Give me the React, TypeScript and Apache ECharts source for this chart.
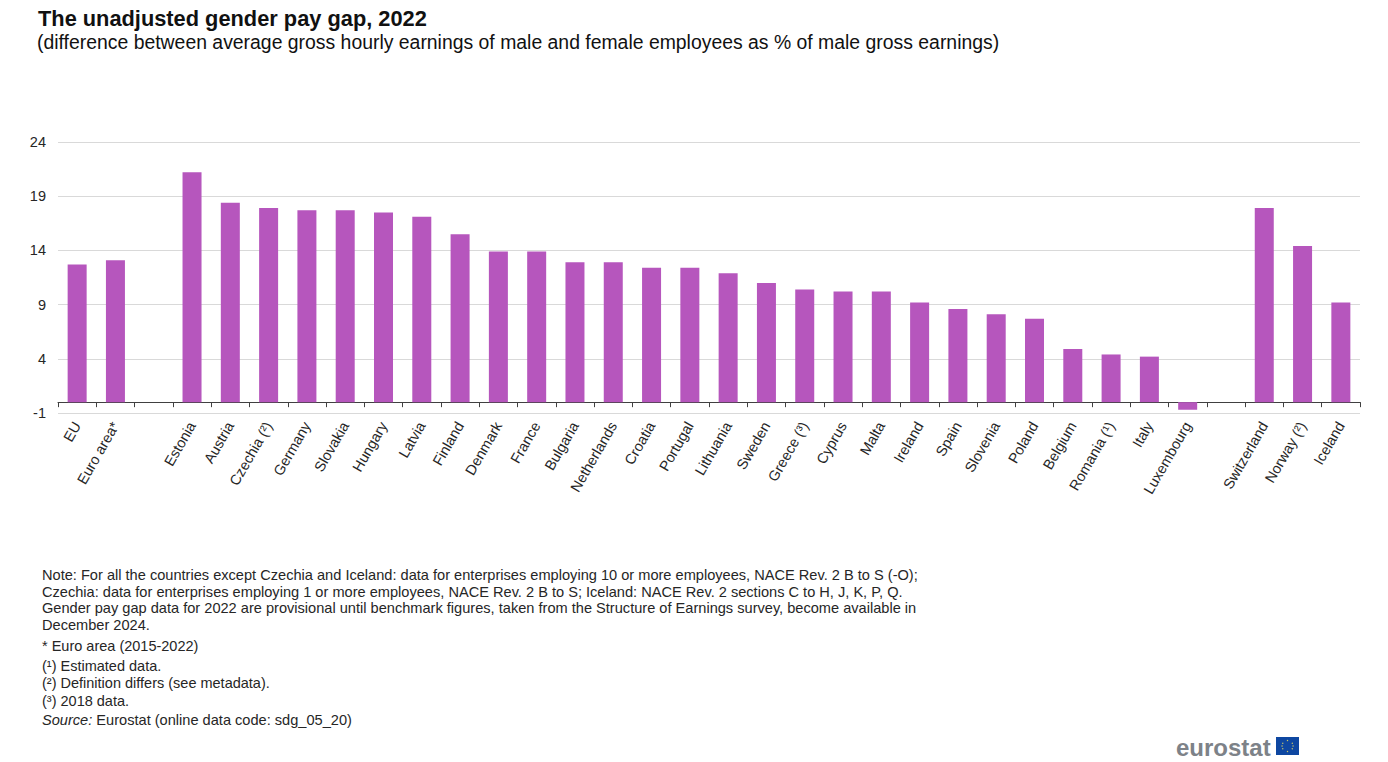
import React, { useEffect, useRef } from "react";
import * as echarts from "echarts";

const categories = ["EU","Euro area*","","Estonia","Austria","Czechia (²)","Germany","Slovakia","Hungary","Latvia","Finland","Denmark","France","Bulgaria","Netherlands","Croatia","Portugal","Lithuania","Sweden","Greece (³)","Cyprus","Malta","Ireland","Spain","Slovenia","Poland","Belgium","Romania (¹)","Italy","Luxembourg"," ","Switzerland","Norway (²)","Iceland"];
const values: (number|null)[] = [12.7,13.1,null,21.2,18.4,17.9,17.7,17.7,17.5,17.1,15.5,13.9,13.9,12.9,12.9,12.4,12.4,11.9,11.0,10.4,10.2,10.2,9.2,8.6,8.1,7.7,4.9,4.4,4.2,-0.7,null,17.9,14.4,9.2];
const noteLines = [
 "Note: For all the countries except Czechia and Iceland: data for enterprises employing 10 or more employees, NACE Rev. 2 B to S (-O);",
 "Czechia: data for enterprises employing 1 or more employees, NACE Rev. 2 B to S; Iceland: NACE Rev. 2 sections C to H, J, K, P, Q.",
 "Gender pay gap data for 2022 are provisional until benchmark figures, taken from the Structure of Earnings survey, become available in",
 "December 2024.",
];
const noteY = [575,592,608,625];
const extraLines = ["* Euro area (2015-2022)","(¹) Estimated data.","(²) Definition differs (see metadata).","(³) 2018 data."];
const extraY = [646,666,683,701];
const FONT = "Liberation Sans, Arial, sans-serif";
const TEXT = "#262626";

export default function App() {
  const ref = useRef<HTMLDivElement>(null);
  useEffect(() => {
    const chart = echarts.init(ref.current!, null, { renderer: "svg" });
    const t = (text: string, x: number, y: number, size: number, extra: any = {}) => ({
      type: "text", x, y, style: { text, fontFamily: FONT, fontSize: size, fill: TEXT, verticalAlign: "middle", ...extra },
    });
    const stars = Array.from({ length: 12 }, (_, i) => ({
      type: "circle",
      shape: { cx: 1287.5 + 5.5 * Math.cos((i * Math.PI) / 6), cy: 746 + 5.5 * Math.sin((i * Math.PI) / 6), r: 0.7 },
      style: { fill: "#c9c76a" },
    }));
    chart.setOption({
      animation: false,
      backgroundColor: "#fff",
      grid: { left: 58, right: 28, top: 142, height: 271, containLabel: false },
      xAxis: {
        type: "category", data: categories, position: "bottom",
        axisLine: { onZero: true, lineStyle: { color: "#404040", width: 1 } },
        axisTick: { show: true, alignWithLabel: false, interval: 0, length: 5, lineStyle: { color: "#404040" } },
        axisLabel: { interval: 0, rotate: 60, fontSize: 14.5, fontFamily: FONT, color: TEXT, margin: 10 },
      },
      yAxis: {
        type: "value", min: -1, max: 24, interval: 5,
        axisLine: { show: false }, axisTick: { show: false },
        splitLine: { lineStyle: { color: "#d9d9d9", width: 1 } },
        axisLabel: { fontSize: 14.5, fontFamily: FONT, color: TEXT, margin: 12 },
      },
      series: [{ type: "bar", data: values, barWidth: 19, itemStyle: { color: "#b656bd" } }],
      graphic: [
        t("The unadjusted gender pay gap, 2022", 38, 18, 21.8, { fontWeight: "bold", fill: "#111" }),
        t("(difference between average gross hourly earnings of male and female employees as % of male gross earnings)", 37, 42, 19.4, { fill: "#111" }),
        ...noteLines.map((l, i) => t(l, 42, noteY[i], 14.6)),
        ...extraLines.map((l, i) => t(l, 42, extraY[i], 14.5)),
        { type: "text", x: 42, y: 720, style: { text: "{i|Source:} Eurostat (online data code: sdg_05_20)", fontFamily: FONT, fontSize: 14.6, fill: TEXT, verticalAlign: "middle", rich: { i: { fontStyle: "italic", fontFamily: FONT, fontSize: 14.6, fill: TEXT } } } },
        t("eurostat", 1176, 747, 24, { fill: "#7d8288", fontWeight: "bold" }),
        { type: "rect", shape: { x: 1276, y: 737, width: 23, height: 18 }, style: { fill: "#0e47a1" } },
        ...stars,
      ],
    });
    return () => chart.dispose();
  }, []);
  return <div ref={ref} style={{ position: "fixed", left: 0, top: 0, width: 1388, height: 762 }} />;
}
